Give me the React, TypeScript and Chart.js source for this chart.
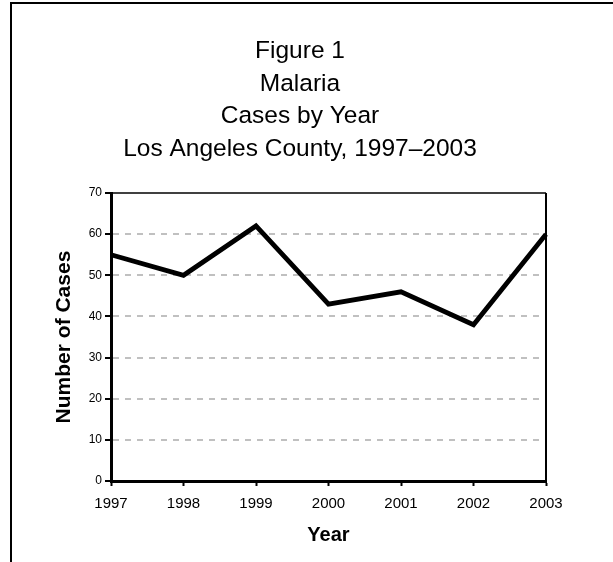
import React, { useEffect, useRef } from "react";
import { Chart, registerables } from "chart.js";

Chart.register(...registerables);

const titleLines = ["Figure 1", "Malaria", "Cases by Year", "Los Angeles County, 1997\u20132003"];
const years = ["1997", "1998", "1999", "2000", "2001", "2002", "2003"];
const cases = [55, 50, 62, 43, 46, 38, 60];
const yMin = 0;
const yMax = 70;
const yStep = 10;
const xTitle = "Year";
const yTitle = "Number of Cases";

const FONT = "Arial, 'Liberation Sans', sans-serif";

const framePlugin = {
  id: "frame",
  beforeDatasetsDraw(chart: any) {
    const { ctx, chartArea } = chart;
    ctx.save();
    ctx.strokeStyle = "#000";
    ctx.lineWidth = 1.5;
    ctx.beginPath();
    ctx.moveTo(chartArea.left, chartArea.top);
    ctx.lineTo(chartArea.right, chartArea.top);
    ctx.stroke();
    ctx.lineWidth = 2;
    ctx.beginPath();
    ctx.moveTo(chartArea.right, chartArea.top);
    ctx.lineTo(chartArea.right, chartArea.bottom);
    ctx.stroke();
    ctx.restore();
  },
};

export default function App() {
  const ref = useRef<HTMLCanvasElement>(null);
  useEffect(() => {
    if (!ref.current) return;
    const chart = new Chart(ref.current, {
      type: "line",
      data: {
        labels: years,
        datasets: [
          {
            data: cases,
            borderColor: "#000",
            borderWidth: 4.8,
            pointRadius: 0,
            tension: 0,
            fill: false,
          },
        ],
      },
      plugins: [framePlugin],
      options: {
        animation: false,
        responsive: false,
        layout: { padding: { left: 54, right: 67, top: 0, bottom: 10 } },
        plugins: {
          legend: { display: false },
          tooltip: { enabled: false },
          title: {
            display: true,
            text: titleLines,
            color: "#000",
            font: { family: FONT, size: 24.5, weight: "normal", lineHeight: 1.327 },
            padding: { top: 35, bottom: 28 },
          },
        },
        scales: {
          x: {
            offset: false,
            afterFit: (s: any) => {
              s.height = 71;
            },
            grid: {
              drawOnChartArea: false,
              drawTicks: true,
              tickLength: 5,
              tickColor: "#000",
              tickWidth: 2,
            },
            border: { display: true, color: "#000", width: 3 },
            ticks: {
              color: "#000",
              font: { family: FONT, size: 15 },
              padding: 9,
              maxRotation: 0,
              autoSkip: false,
            },
            title: {
              display: true,
              text: xTitle,
              color: "#000",
              font: { family: FONT, size: 20, weight: "bold", lineHeight: 1.2 },
              padding: { top: 0, bottom: 5 },
            },
          },
          y: {
            min: yMin,
            max: yMax,
            afterFit: (s: any) => {
              s.width = 111 - 54;
            },
            grid: {
              drawOnChartArea: true,
              color: (c: any) =>
                c.tick && (c.tick.value === yMin || c.tick.value === yMax) ? "rgba(0,0,0,0)" : "#c0c0c0",
              lineWidth: 2,
              drawTicks: true,
              tickLength: 6,
              tickColor: "#000",
              tickWidth: 2,
              tickBorderDash: [],
            },
            border: { display: true, color: "#000", width: 3, dash: [6, 6] },
            ticks: {
              stepSize: yStep,
              color: "#000",
              font: { family: FONT, size: 12 },
              padding: 3,
            },
            title: {
              display: true,
              text: yTitle,
              color: "#000",
              font: { family: FONT, size: 21, weight: "bold", lineHeight: 1.0 },
              padding: { top: 0, bottom: 0 },
            },
          },
        },
      },
    });
    return () => chart.destroy();
  }, []);

  return (
    <div
      style={{
        position: "fixed",
        left: 0,
        top: 0,
        width: 613,
        height: 562,
        overflow: "hidden",
        background: "#fff",
      }}
    >
      <div
        style={{
          position: "absolute",
          left: 10,
          top: 2,
          width: 800,
          height: 800,
          border: "2px solid #000",
          boxSizing: "border-box",
        }}
      />
      <canvas ref={ref} width={613} height={562} style={{ position: "absolute", left: 0, top: 0 }} />
    </div>
  );
}
